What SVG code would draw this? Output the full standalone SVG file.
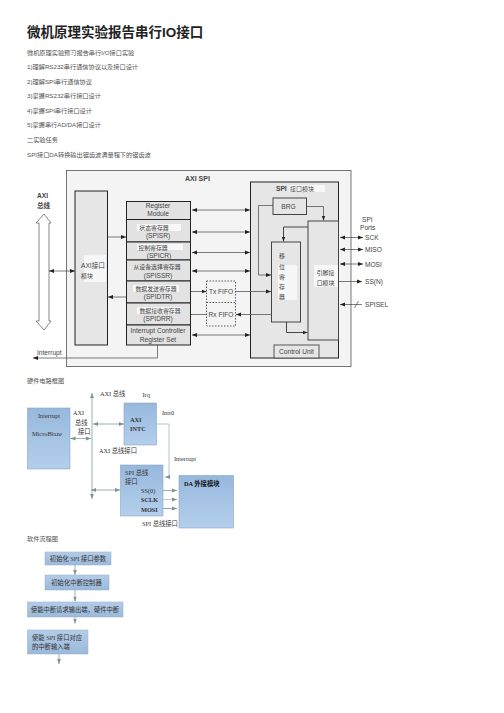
<svg xmlns="http://www.w3.org/2000/svg" width="504" height="713" viewBox="0 0 504 713">
<style>
text{font-family:"Liberation Sans","Noto Sans CJK SC",sans-serif;fill:#333}
.p{font-size:6.2px;fill:#555}
.t{font-size:13.5px;font-weight:bold;fill:#222}
.l{font-size:6.6px;fill:#444}
.c{font-size:5.9px}
.m{text-anchor:middle}
.b{font-weight:bold}
.s{font-family:"Liberation Serif","Noto Sans CJK SC",serif;font-size:6.3px;fill:#333}
.blk{fill:#e6e6e6;stroke:#222;stroke-width:1}
.reg{fill:#e2e2e2;stroke:#222;stroke-width:1}
.cn{fill:none;stroke:#444;stroke-width:.7}
.dash{fill:none;stroke:#333;stroke-width:.8;stroke-dasharray:1.5 1.5}
.gc{fill:none;stroke:#86999c;stroke-width:.8}
.bl{fill:url(#blue);stroke:#8aa5c4;stroke-width:.6}
.fl{fill:url(#flow);stroke:#93add0;stroke-width:.5}
.soft{fill:#f7f7f7}
</style>
<defs>
<linearGradient id="blue" x1="0" y1="0" x2="0" y2="1"><stop offset="0" stop-color="#97b8dd"/><stop offset="1" stop-color="#b4cfec"/></linearGradient>
<linearGradient id="flow" x1="0" y1="0" x2="0" y2="1"><stop offset="0" stop-color="#b4cde8"/><stop offset="1" stop-color="#9bb9da"/></linearGradient>
<marker id="a" markerWidth="6" markerHeight="5" refX="5" refY="2.5" orient="auto-start-reverse" markerUnits="userSpaceOnUse"><path d="M0 .6L5 2.5L0 4.4z" fill="#222"/></marker>
<marker id="g" markerWidth="6" markerHeight="5" refX="5" refY="2.5" orient="auto-start-reverse" markerUnits="userSpaceOnUse"><path d="M0 .6L5 2.5L0 4.4z" fill="#7f9396"/></marker>
</defs>
<rect width="504" height="713" fill="#fff"/>

<g id="document-text">
<text class="t" x="27" y="36.500">微机原理实验报告串行IO接口</text>
<text class="p" x="27" y="54.500">微机原理实验预习报告串行I/O接口实验</text>
<text class="p" x="27" y="69">1)理解RS232串行通信协议以及接口设计</text>
<text class="p" x="27" y="84">2)理解SPI串行通信协议</text>
<text class="p" x="27" y="98">3)掌握RS232串行接口设计</text>
<text class="p" x="27" y="112.500">4)掌握SPI串行接口设计</text>
<text class="p" x="27" y="127">5)掌握串行AD/DA接口设计</text>
<text class="p" x="27" y="141.500">二实验任务</text>
<text class="p" x="27" y="157">SPI接口DA转换输出锯齿波满量程下的锯齿波</text>
<text class="p" x="27" y="383">硬件电路框图</text>
<text class="p" x="27" y="541">软件流程图</text>
</g>

<g id="axi-spi-frame">
<rect x="66.500" y="170.500" width="284.500" height="196" fill="#f4f4f4" stroke="#555" stroke-width=".8"/>
<text class="l b" x="185" y="180.500" style="font-size:7px">AXI SPI</text>
</g>
<g id="axi-bus">
<text class="l b" x="37" y="197.500">AXI</text>
<text class="l b" x="37" y="207.500">总线</text>
<path d="M44 214L51 223H49V321H51L44 330L36 321H39V223H36Z" fill="#fff" stroke="#555" stroke-width=".7"/>
</g>
<g id="axi-module">
<rect class="blk" x="75" y="191" width="32.500" height="154"/>
<rect class="soft" x="84" y="255" width="22" height="27"/>
<text class="l" x="81" y="267.500">AXI接口</text>
<text class="l c" x="81" y="277.500">模块</text>
</g>

<g id="reg-module"><rect class="reg" x="126.500" y="201.500" width="64" height="18"/><text class="l m" x="158" y="208">Register</text><text class="l m" x="158" y="216">Module</text></g>
<g id="reg-spisr"><rect class="reg" x="126.500" y="219.500" width="64" height="22.500"/><rect class="soft" x="137" y="224" width="44" height="7"/><text class="l c m" x="154" y="229.500">状态寄存器</text><text class="l m" x="158" y="237.500">(SPISR)</text></g>
<g id="reg-spicr"><rect class="reg" x="126.500" y="242" width="64" height="18"/><rect class="soft" x="137" y="244" width="46" height="6"/><text class="l c m" x="153" y="250">控制寄存器</text><text class="l m" x="159" y="257.500">(SPICR)</text></g>
<g id="reg-spissr"><rect class="reg" x="126.500" y="260" width="64" height="21"/><text class="l c m" x="157" y="269">从设备选择寄存器</text><text class="l m" x="158" y="278">(SPISSR)</text></g>
<g id="reg-spidtr"><rect class="reg" x="126.500" y="281" width="64" height="22"/><rect class="soft" x="133" y="285" width="46" height="7"/><text class="l c m" x="156" y="290.500">数据发送寄存器</text><text class="l m" x="158" y="298.500">(SPIDTR)</text></g>
<g id="reg-spidrr"><rect class="reg" x="126.500" y="303" width="64" height="22"/><rect class="soft" x="137" y="307" width="44" height="7"/><text class="l c m" x="160" y="313">数据接收寄存器</text><text class="l m" x="158" y="320.500">(SPIDRR)</text></g>
<g id="reg-interrupt"><rect class="reg" x="126.500" y="325" width="64" height="20"/><text class="l m" x="158" y="333">Interrupt Controller</text><text class="l m" x="158" y="341.500">Register Set</text></g>

<g id="fifo">
<rect class="dash" x="206.500" y="281" width="29" height="45"/>
<line class="dash" x1="206.500" y1="302.500" x2="235.500" y2="302.500"/>
<text class="l m" x="221" y="294">Tx FIFO</text>
<text class="l m" x="221" y="317">Rx FIFO</text>
</g>

<g id="spi-module">
<rect class="blk" x="250.500" y="182" width="88" height="176"/>
<rect class="soft" x="289" y="185" width="36" height="7"/>
<text class="l b" x="276" y="190.500">SPI</text><text class="l" x="290" y="190.500" style="font-size:6px">接口模块</text>
</g>
<g id="brg"><rect class="blk" x="273" y="198" width="33.500" height="16.500" style="stroke:#444"/><text class="l m" x="288.500" y="209">BRG</text></g>
<g id="shift-register">
<rect class="blk" x="271.500" y="242" width="29" height="80" style="stroke:#444"/>
<rect class="soft" x="278" y="265" width="19" height="35"/>
<text class="l c m" x="282" y="258">移</text><text class="l c m" x="282" y="268.500">位</text><text class="l c m" x="282" y="278.500">寄</text><text class="l c m" x="282" y="288.500">存</text><text class="l c m" x="282" y="299">器</text>
</g>
<g id="pin-module">
<rect class="blk" x="308" y="221" width="30.500" height="119" style="stroke:#444"/>
<rect class="soft" x="314" y="265" width="24" height="22"/>
<text class="l c m" x="325.500" y="274.500">引脚接</text><text class="l c m" x="325.500" y="284.500">口模块</text>
</g>
<g id="control-unit"><rect class="blk" x="274" y="345" width="45" height="13" style="stroke:#555"/><text class="l m" x="296.500" y="353.500">Control Unit</text></g>
<g id="ports">
<text class="l" x="362" y="221.500">SPI</text><text class="l" x="360" y="230">Ports</text>
<text class="l" x="365" y="240">SCK</text><text class="l" x="365" y="251.500">MISO</text><text class="l" x="365" y="266.500">MOSI</text><text class="l" x="365" y="283.500">SS(N)</text><text class="l" x="365" y="306.500">SPISEL</text>
<text class="l" x="37" y="355">Interrupt</text>
</g>

<g id="connectors">
<line class="cn" x1="49" y1="271" x2="75" y2="271" marker-start="url(#a)" marker-end="url(#a)"/>
<line class="cn" x1="107.500" y1="237" x2="126" y2="237" marker-end="url(#a)"/>
<line class="cn" x1="126" y1="297" x2="108" y2="297" marker-end="url(#a)"/>
<line class="cn" x1="192" y1="210" x2="250" y2="210" marker-start="url(#a)" marker-end="url(#a)"/>
<line class="cn" x1="192" y1="232" x2="250" y2="232" marker-start="url(#a)" marker-end="url(#a)"/>
<line class="cn" x1="192" y1="252.500" x2="250" y2="252.500" marker-start="url(#a)" marker-end="url(#a)"/>
<line class="cn" x1="192" y1="271" x2="250" y2="271" marker-start="url(#a)" marker-end="url(#a)"/>
<line class="cn" x1="192" y1="335" x2="250" y2="335" marker-start="url(#a)" marker-end="url(#a)"/>
<line class="cn" x1="191" y1="291.500" x2="206.500" y2="291.500" marker-end="url(#a)"/>
<line class="cn" x1="235.500" y1="291.500" x2="271" y2="291.500" marker-end="url(#a)"/>
<line class="cn" x1="271" y1="314.500" x2="236" y2="314.500" marker-end="url(#a)"/>
<line class="cn" x1="206.500" y1="314.500" x2="191" y2="314.500"/>
<path class="cn" d="M157.500 345V358H33" marker-end="url(#a)"/>
<path class="cn" d="M273 205.500H258.500V275H271" marker-end="url(#a)"/>
<path class="cn" d="M306.500 206.500H323.500V220.500" marker-end="url(#a)"/>
<path class="cn" style="stroke-width:1" d="M308 227H283.500V241.500" marker-end="url(#a)"/>
<path class="cn" style="stroke-width:1" d="M286.500 322V332.500H307.500" marker-end="url(#a)"/>
<line class="cn" x1="340" y1="237.500" x2="363" y2="237.500" marker-start="url(#a)" marker-end="url(#a)"/>
<line class="cn" x1="340" y1="249.500" x2="363" y2="249.500" marker-start="url(#a)" marker-end="url(#a)"/>
<line class="cn" x1="340" y1="264" x2="363" y2="264" marker-start="url(#a)" marker-end="url(#a)"/>
<line class="cn" x1="338.500" y1="281.500" x2="362" y2="281.500" marker-end="url(#a)"/>
<line class="cn" x1="362" y1="304.500" x2="340" y2="304.500" marker-end="url(#a)"/>
<line class="cn" x1="354.500" y1="308" x2="358.500" y2="301"/>

<line class="gc" x1="92" y1="393" x2="92" y2="499" marker-start="url(#g)" marker-end="url(#g)"/>
<line class="gc" x1="70.500" y1="438.500" x2="91" y2="438.500" marker-start="url(#g)" marker-end="url(#g)"/>
<line class="gc" x1="93" y1="424" x2="124" y2="424" marker-start="url(#g)" marker-end="url(#g)"/>
<line class="gc" x1="91" y1="490" x2="120" y2="490" marker-start="url(#g)" marker-end="url(#g)"/>
<path class="gc" style="stroke:#b4c8c8;stroke-width:1" d="M156.500 424H169V477H165" marker-end="url(#g)"/>
<line class="gc" x1="163" y1="490.500" x2="177" y2="490.500" marker-end="url(#g)"/>
<line class="gc" style="stroke:#b5bdbd" x1="163" y1="499.500" x2="177" y2="499.500" marker-end="url(#g)"/>
<line class="gc" style="stroke:#6f9b96" x1="163" y1="508.500" x2="177" y2="508.500" marker-end="url(#g)"/>
<line class="gc" x1="75" y1="565" x2="75" y2="575" marker-end="url(#g)"/>
<line class="gc" x1="75" y1="590" x2="75" y2="601.500" marker-end="url(#g)"/>
<line class="gc" x1="75" y1="617" x2="75" y2="623.500" marker-end="url(#g)"/>
<line class="gc" x1="59" y1="654" x2="59" y2="664" marker-end="url(#g)"/>
</g>

<g id="labels-hardware">
<text class="s" x="100" y="396">AXI 总线</text>
<text class="s" x="142.500" y="397">Irq</text>
<text class="s" x="73" y="415">AXI</text>
<text class="s" x="75" y="424.500">总线</text>
<text class="s" x="78" y="433.500">接口</text>
<text class="s" x="162" y="415">Intr0</text>
<text class="s" x="99" y="452.500">AXI 总线接口</text>
<text class="s" x="174" y="461">Interrupt</text>
<text class="s" x="142" y="525.500">SPI 总线接口</text>
</g>
<g id="microblaze"><rect class="bl" x="27.500" y="408" width="42.500" height="61"/><text class="s" x="38" y="417.500">Interrupt</text><text class="s" x="32" y="435.500">MicroBlaze</text></g>
<g id="axi-intc"><rect class="bl" x="124" y="403" width="32.500" height="42"/><text class="s b" x="130" y="421.500">AXI</text><text class="s b" x="130" y="431">INTC</text></g>
<g id="spi-bus"><rect class="bl" x="120.500" y="465" width="42.500" height="51"/><text class="s" x="125" y="474.500">SPI 总线</text><text class="s" x="125" y="483.500">接口</text><text class="s" x="141" y="492.500">SS(0)</text><text class="s b" x="141" y="502">SCLK</text><text class="s b" x="141" y="511.500">MOSI</text></g>
<g id="da-module"><rect class="bl" x="179" y="475.500" width="54.500" height="52.500"/><text class="s b" x="184" y="485.500" style="fill:#111">DA 外接模块</text></g>

<g id="flow-1"><rect class="fl" x="45" y="552" width="66" height="13"/><text class="s m" x="78" y="561">初始化 SPI 接口参数</text></g>
<g id="flow-2"><rect class="fl" x="45" y="575" width="64" height="15"/><text class="s m" x="76.500" y="585">初始化中断控制器</text></g>
<g id="flow-3"><rect class="fl" x="27.500" y="602" width="95.500" height="15"/><text class="s m" x="75" y="612">使能中断请求输出端，硬件中断</text></g>
<g id="flow-4"><rect class="fl" x="27.500" y="630" width="60.500" height="24"/><text class="s" x="32" y="639.500">使能 SPI 接口对应</text><text class="s" x="32" y="649">的中断输入端</text></g>
</svg>
